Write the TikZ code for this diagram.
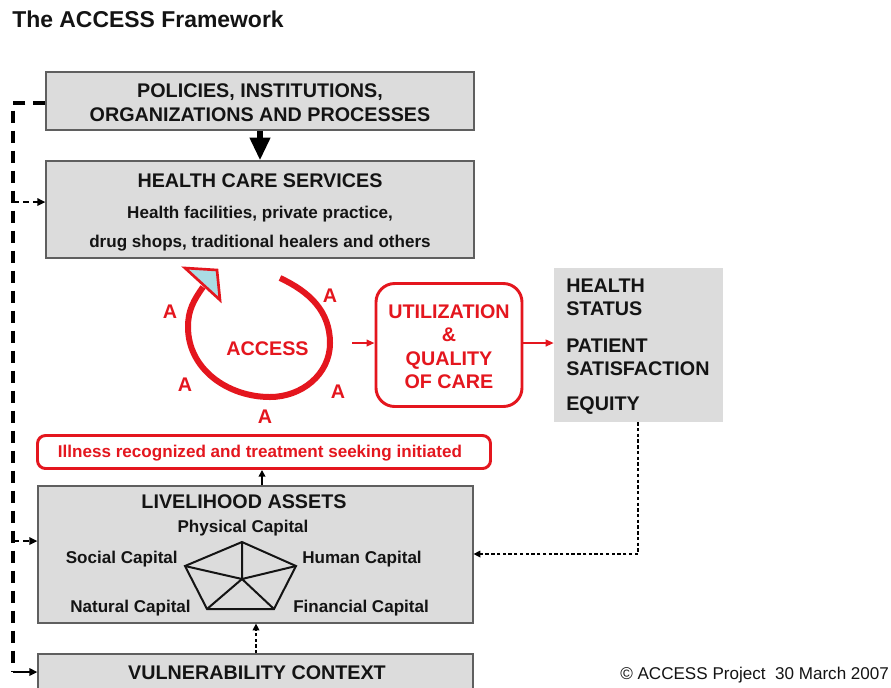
\documentclass[tikz,border=0pt]{standalone}
\usepackage{fontspec}
\setmainfont{Liberation Sans}
\usetikzlibrary{arrows.meta}
\definecolor{boxgray}{RGB}{220,220,220}
\definecolor{boxedge}{RGB}{95,95,95}
\definecolor{accred}{RGB}{228,22,30}
\definecolor{headblue}{RGB}{170,220,228}
\definecolor{ink}{RGB}{20,20,20}
\begin{document}
\begin{tikzpicture}[x=0.75pt,y=0.75pt,
  graybox/.style={draw=boxedge, line width=0.9pt, fill=boxgray, inner sep=0pt},
  redbox/.style={draw=accred, line width=2.2pt, fill=white, inner sep=0pt},
  hd/.style={font=\bfseries\fontsize{14.8}{17}\selectfont, text=ink, inner sep=0pt},
  sub/.style={font=\bfseries\fontsize{12.8}{15}\selectfont, text=ink, inner sep=0pt},
  redhd/.style={hd, text=accred},
  fbline/.style={line width=2.5pt, dash pattern=on 9pt off 6pt},
  fbbranch/.style={line width=1.6pt, dash pattern=on 4.5pt off 3pt, -{Triangle[length=6pt,width=5.5pt]}},
  dotarrow/.style={line width=0.9pt, dash pattern=on 2.5pt off 1.8pt, -{Triangle[length=5pt,width=5pt]}},
  redarrow/.style={accred, line width=1.3pt, -{Triangle[length=6pt,width=5pt]}}
]
\clip (0,0) rectangle (891,-687);
\fill[white] (0,0) rectangle (891,-687);

% title
\node[anchor=base west, inner sep=0pt, font=\bfseries\fontsize{17.2}{20}\selectfont, text=ink] (title) at (12,-27) {The ACCESS Framework};

% boxes
\node[graybox, minimum width=321pt, minimum height=43.5pt] (b1) at (260,-101) {};
\node[graybox, minimum width=321pt, minimum height=72.75pt] (b2) at (260,-209.5) {};
\node[fill=boxgray, inner sep=0pt, minimum width=126.75pt, minimum height=115.5pt] (hs) at (638.5,-345) {};
\node[redbox, rounded corners=14pt, minimum width=109.5pt, minimum height=92.25pt] (uq) at (449,-345) {};
\node[redbox, rounded corners=6pt, minimum width=339.75pt, minimum height=24.75pt] (ill) at (264,-452) {};
\node[graybox, minimum width=326.25pt, minimum height=102.75pt] (la) at (255.5,-554.5) {};
\node[graybox, minimum width=326.25pt, minimum height=45pt] (vc) at (255.5,-684) {};

% texts in box 1 and 2
\node[hd, anchor=base] (t1a) at (260,-97) {POLICIES, INSTITUTIONS,};
\node[hd, anchor=base] (t1b) at (260,-121) {ORGANIZATIONS AND PROCESSES};
\node[hd, anchor=base] (t2a) at (260,-187) {HEALTH CARE SERVICES};
\node[sub, anchor=base] (t2b) at (260,-218) {Health facilities, private practice,};
\node[sub, anchor=base] (t2c) at (260,-247) {drug shops, traditional healers and others};

% thick arrow box1 -> box2
\draw[line width=4.2pt, -{Triangle[length=17pt,width=14.5pt]}] (b1.south) -- (b2.north);

% ACCESS ring
\draw[accred, line width=4.5pt] (280,-278) to[out=-25,in=90] (330,-343) to[out=-90,in=0] (270,-397) to[out=180,in=-90] (188,-327) to[out=90,in=235] (203,-287);
\filldraw[draw=accred, fill=headblue, line width=2pt, line join=miter] (185,-268) -- (217,-270) -- (220,-300) -- cycle;
\node[redhd, anchor=base] (acc) at (267.5,-355) {ACCESS};
\node[redhd, anchor=base] (a1) at (170,-318) {A};
\node[redhd, anchor=base] (a2) at (330,-302) {A};
\node[redhd, anchor=base] (a3) at (185,-391) {A};
\node[redhd, anchor=base] (a4) at (338,-398) {A};
\node[redhd, anchor=base] (a5) at (265,-423) {A};

% utilization text
\node[redhd, anchor=base] (u1) at (449,-318) {UTILIZATION};
\node[redhd, anchor=base] (u2) at (449,-341) {\&};
\node[redhd, anchor=base] (u3) at (449,-365) {QUALITY};
\node[redhd, anchor=base] (u4) at (449,-388) {OF CARE};

% health status texts
\node[hd, anchor=base west] (h1) at (566,-292) {HEALTH};
\node[hd, anchor=base west] (h2) at (566,-315) {STATUS};
\node[hd, anchor=base west] (h3) at (566,-352) {PATIENT};
\node[hd, anchor=base west] (h4) at (566,-375) {SATISFACTION};
\node[hd, anchor=base west] (h5) at (566,-410) {EQUITY};

% red arrows
\coordinate (accout) at (352,-343);
\draw[redarrow] (accout) -- (accout -| uq.west);
\draw[redarrow] (uq.east |- accout) -- (hs.west |- accout);

% illness text
\node[font=\bfseries\fontsize{12.8}{15}\selectfont, text=accred, inner sep=0pt, anchor=base] (illt) at (260,-457) {Illness recognized and treatment seeking initiated};

% livelihood -> illness
\coordinate (lup) at (262,0);
\draw[line width=1.2pt, -{Triangle[length=5pt,width=5pt]}] (la.north -| lup) -- (ill.south -| lup);

% livelihood texts
\node[hd, anchor=base] (lat) at (244,-508) {LIVELIHOOD ASSETS};
\node[sub, anchor=base] (pc) at (243,-532) {Physical Capital};
\node[sub, anchor=base east] (sc) at (178,-563) {Social Capital};
\node[sub, anchor=base west] (hc) at (302,-563) {Human Capital};
\node[sub, anchor=base east] (nc) at (191,-612) {Natural Capital};
\node[sub, anchor=base west] (fc) at (293,-612) {Financial Capital};

% pentagon
\coordinate (p1) at (242,-542);
\coordinate (p2) at (296,-566);
\coordinate (p3) at (274,-609);
\coordinate (p4) at (207,-609);
\coordinate (p5) at (185,-566);
\coordinate (pm) at (242,-579);
\draw[line width=1.5pt, line join=miter, ink] (p1) -- (p2) -- (p3) -- (p4) -- (p5) -- cycle;
\draw[line width=1.5pt, ink] (pm) -- (p1) (pm) -- (p2) (pm) -- (p3) (pm) -- (p4) (pm) -- (p5);

% vulnerability
\node[hd, anchor=base] (vct) at (257,-679) {VULNERABILITY CONTEXT};
\coordinate (vup) at (256,0);
\draw[dotarrow] (vc.north -| vup) -- (la.south -| vup);

% health status -> livelihood
\coordinate (hsdown) at (638,-554);
\draw[dotarrow] (hs.south -| hsdown) -- (hsdown) -- (la.east |- hsdown);

% feedback line
\coordinate (fbx) at (13,0);
\coordinate (fbbot) at (13,-672);
\draw[fbline] ([yshift=-1.5pt]b1.west) -- ([yshift=-1.5pt]b1.west -| fbx) -- (fbbot);
\draw[fbbranch] ([yshift=5.6pt]b2.west -| fbx) -- ([yshift=5.6pt]b2.west);
\draw[fbbranch] ([yshift=10.1pt]la.west -| fbx) -- ([yshift=10.1pt]la.west);
\draw[line width=1.6pt, -{Triangle[length=6pt,width=5.5pt]}] (fbbot) -- (fbbot -| vc.west);

% copyright
\node[anchor=base west, inner sep=0pt, font=\fontsize{12.8}{15}\selectfont, text=ink] (copy) at (620,-679) {© ACCESS Project\ \ 30 March 2007};
\end{tikzpicture}
\end{document}
